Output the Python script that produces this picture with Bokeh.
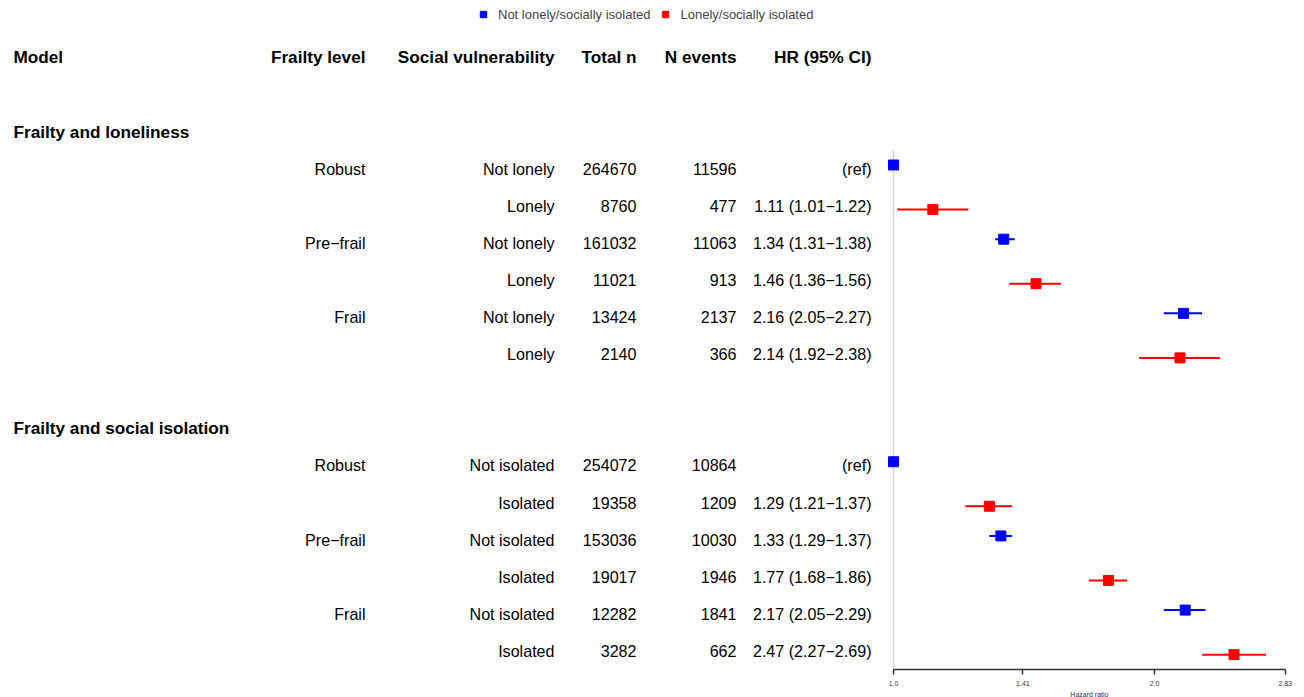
import math

from bokeh.plotting import figure
from bokeh.models import (ColumnDataSource, Range1d, LogScale, LogAxis, FixedTicker,
                          Legend, LegendItem, Title, Grid)
from bokeh.core.properties import value
from bokeh.embed import file_html
from bokeh.resources import INLINE

# ---- data -----------------------------------------------------------------
models = ["Frailty and loneliness", "Frailty and social isolation"]
frailty_levels = ["Robust", "Pre\u2212frail", "Frail"]
vulnerability = [["Not lonely", "Lonely"], ["Not isolated", "Isolated"]]

total_n = [
    [264670, 8760, 161032, 11021, 13424, 2140],
    [254072, 19358, 153036, 19017, 12282, 3282],
]
n_events = [
    [11596, 477, 11063, 913, 2137, 366],
    [10864, 1209, 10030, 1946, 1841, 662],
]
hr = [
    [1.00, 1.11, 1.34, 1.46, 2.16, 2.14],
    [1.00, 1.29, 1.33, 1.77, 2.17, 2.47],
]
hr_low = [
    [None, 1.01, 1.31, 1.36, 2.05, 1.92],
    [None, 1.21, 1.29, 1.68, 2.05, 2.27],
]
hr_high = [
    [None, 1.22, 1.38, 1.56, 2.27, 2.38],
    [None, 1.37, 1.37, 1.86, 2.29, 2.69],
]

headers = ["Model", "Frailty level", "Social vulnerability", "Total n", "N events", "HR (95% CI)"]
legend_labels = ["Not lonely/socially isolated", "Lonely/socially isolated"]
hr_ticks = [1.0, 1.41, 2.0, 2.83]
hr_tick_labels = ["1.0", "1.41", "2.0", "2.83"]

# ---- layout ---------------------------------------------------------------
W, H = 1304, 697
BORDER_BOTTOM = 27
FRAME_H = H - BORDER_BOTTOM
ROW0_PX, ROW_PX = 57.0, 37.15          # pixel centre of header row, row pitch
y_top = -ROW0_PX / ROW_PX
y_bottom = (FRAME_H - ROW0_PX) / ROW_PX

# log2 HR -> pixel: 1.0 at 893 px, one doubling = 261 px
HR_X0, HR_PER_DOUBLING = 893.0, 261.0
hr_start = 2 ** (-HR_X0 / HR_PER_DOUBLING)
hr_end = 2 ** ((W - HR_X0) / HR_PER_DOUBLING)

COL_MODEL = 13
COL_RIGHT = [365, 554, 636, 736, 871]  # right edges of the remaining columns
DODGE = 0.1
FONT_NAME = "Liberation Sans"
FONT = value(FONT_NAME)

p = figure(width=W, height=H, output_backend="svg", toolbar_location=None,
           x_range=Range1d(0, W), y_range=Range1d(y_bottom, y_top),
           x_axis_location=None, y_axis_location=None,
           extra_x_ranges={"hr": Range1d(hr_start, hr_end)},
           extra_x_scales={"hr": LogScale()},
           min_border_left=0, min_border_right=0, min_border_top=0,
           min_border_bottom=BORDER_BOTTOM)
p.outline_line_color = None
p.background_fill_color = "white"
p.border_fill_color = "white"
p.center = [c for c in p.center if not isinstance(c, Grid)]

# ---- table text -----------------------------------------------------------
bold = dict(x=[COL_MODEL], y=[0], text=[headers[0]], align=["left"])
for cx, h in zip(COL_RIGHT, headers[1:]):
    bold["x"].append(cx); bold["y"].append(0); bold["text"].append(h); bold["align"].append("right")

plain = dict(x=[], y=[], text=[], align=[])
blue = dict(hr=[], lo=[], hi=[], y=[])
red = dict(hr=[], lo=[], hi=[], y=[])

def fmt_hr(v, lo, hi):
    if lo is None:
        return "(ref)"
    return f"{v:.2f} ({lo:.2f}\u2212{hi:.2f})"

for m, model in enumerate(models):
    sec_row = 2 + 8 * m
    bold["x"].append(COL_MODEL); bold["y"].append(sec_row)
    bold["text"].append(model); bold["align"].append("left")
    for i in range(6):
        row = sec_row + 1 + i
        cells = [frailty_levels[i // 2] if i % 2 == 0 else "",
                 vulnerability[m][i % 2],
                 str(total_n[m][i]),
                 str(n_events[m][i]),
                 fmt_hr(hr[m][i], hr_low[m][i], hr_high[m][i])]
        for cx, t in zip(COL_RIGHT, cells):
            if t:
                plain["x"].append(cx); plain["y"].append(row)
                plain["text"].append(t); plain["align"].append("right")
        lo = hr_low[m][i] if hr_low[m][i] is not None else float("nan")
        hi = hr_high[m][i] if hr_high[m][i] is not None else float("nan")
        target = blue if i % 2 == 0 else red
        target["hr"].append(hr[m][i]); target["lo"].append(lo); target["hi"].append(hi)
        target["y"].append(row - DODGE if i % 2 == 0 else row + DODGE)

p.text(x="x", y="y", text="text", text_align="align", source=ColumnDataSource(bold),
       text_font=FONT, text_font_style="bold", text_font_size="17.2px",
       text_baseline="middle", text_color="black")
p.text(x="x", y="y", text="text", text_align="align", source=ColumnDataSource(plain),
       text_font=FONT, text_font_size="16.1px", text_baseline="middle", text_color="black")

# ---- forest panel ---------------------------------------------------------
p.segment(x0=[1.0], x1=[1.0], y0=[2.5], y1=[y_bottom], x_range_name="hr",
          line_color="#d4d4d4", line_width=1.5)

renderers = []
for src, color in ((blue, "#0000ff"), (red, "#ff0000")):
    s = ColumnDataSource(src)
    p.segment(x0="lo", x1="hi", y0="y", y1="y", source=s, x_range_name="hr",
              line_color=color, line_width=2)
    r = p.scatter(x="hr", y="y", source=s, x_range_name="hr", marker="square",
                  size=10, fill_color=color, line_color=color)
    renderers.append(r)

axis = LogAxis(x_range_name="hr", ticker=FixedTicker(ticks=hr_ticks),
               bounds=(hr_ticks[0], hr_ticks[-1]),
               major_label_text_font=FONT_NAME, major_label_text_color="#333333",
               major_label_text_font_size="7px", major_label_standoff=6,
               major_tick_in=0, major_tick_out=5, minor_tick_in=0, minor_tick_out=0,
               axis_line_width=1.5, axis_line_color="#333333",
               major_tick_line_color="#333333", major_tick_line_width=1.5)
axis.major_label_overrides = {t: lab for t, lab in zip(hr_ticks, hr_tick_labels)}
p.add_layout(axis, "below")

# axis title, centred under the HR scale rather than the whole frame
hr_mid_px = HR_X0 + HR_PER_DOUBLING * 0.5 * (math.log2(hr_ticks[0]) + math.log2(hr_ticks[-1]))
TITLE_HALF_WIDTH = 19
p.add_layout(Title(text="Hazard ratio", align="left", offset=hr_mid_px - TITLE_HALF_WIDTH,
                   standoff=0, text_font=FONT_NAME, text_font_size="7px",
                   text_font_style="normal", text_color="#333333"), "below")

legend = Legend(items=[LegendItem(label=legend_labels[0], renderers=[renderers[0]]),
                       LegendItem(label=legend_labels[1], renderers=[renderers[1]])],
                orientation="horizontal", location=(472, FRAME_H - 26),
                glyph_width=16, glyph_height=16, label_standoff=7, spacing=7,
                padding=3, margin=0, border_line_alpha=0, background_fill_alpha=0,
                label_text_font=FONT_NAME, label_text_font_size="13px",
                label_height=16)
p.add_layout(legend)

open("out.html", "w").write(file_html(p, INLINE))
